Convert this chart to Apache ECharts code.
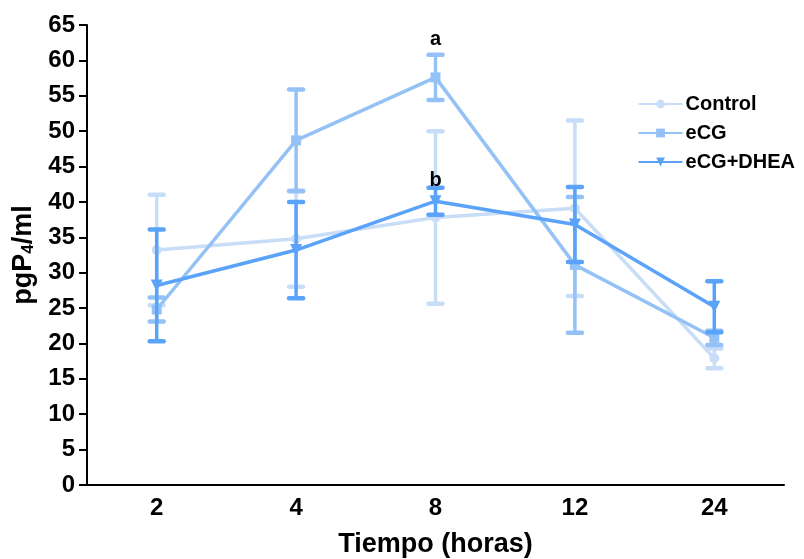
<!DOCTYPE html>
<html><head><meta charset="utf-8">
<script src="https://cdn.jsdelivr.net/npm/echarts@6/dist/echarts.min.js"></script>
<style>html,body{margin:0;padding:0;background:#fff}#c{width:804px;height:559px}</style>
</head><body><div id="c"></div>
<script>
var categories = ['2', '4', '8', '12', '24'];
var controlMean = [33.2, 34.8, 37.8, 39.1, 17.9];
var controlErr  = [7.8, 6.8, 12.2, 12.4, 1.4];
var ecgMean     = [24.8, 48.7, 57.6, 31.1, 20.8];
var ecgErr      = [1.7, 7.2, 3.2, 9.6, 1.0];
var dheaMean    = [28.2, 33.2, 40.1, 36.8, 25.2];
var dheaErr     = [7.9, 6.8, 1.9, 5.3, 3.6];
var yTicks = {min: 0, max: 65, interval: 5};
var annotations = [{text: 'a', cat: '8', value: 62.9}, {text: 'b', cat: '8', value: 43.1}];

var colors = {control: '#c8ddf7', ecg: '#94c2f7', dhea: '#5aa3f9'};
var FONT = 'Liberation Sans, Arial, sans-serif';

function errData(mean, err) {
  return mean.map(function (m, i) { return [i, m - err[i], m + err[i]]; });
}
function errSeries(name, mean, err, color, z) {
  return {
    type: 'custom', name: name + ' err', z: z, silent: true,
    data: errData(mean, err),
    renderItem: function (params, api) {
      var lo = api.coord([api.value(0), api.value(1)]);
      var hi = api.coord([api.value(0), api.value(2)]);
      var hw = 7;
      var st = {stroke: color, lineWidth: 3.5, lineCap: 'round'};
      return {type: 'group', children: [
        {type: 'line', shape: {x1: lo[0], y1: lo[1], x2: hi[0], y2: hi[1]}, style: st},
        {type: 'line', shape: {x1: lo[0] - hw, y1: lo[1], x2: lo[0] + hw, y2: lo[1]}, style: {stroke: color, lineWidth: 4.5, lineCap: 'round'}},
        {type: 'line', shape: {x1: hi[0] - hw, y1: hi[1], x2: hi[0] + hw, y2: hi[1]}, style: {stroke: color, lineWidth: 4.5, lineCap: 'round'}}
      ]};
    }
  };
}
function lineSeries(name, mean, color, symbol, rotate, z) {
  return {
    type: 'line', name: name, data: mean, z: z,
    symbol: symbol, symbolSize: symbol === 'triangle' ? 12 : 10, symbolRotate: rotate,
    showAllSymbol: true,
    lineStyle: {color: color, width: 3.5},
    itemStyle: {color: color, borderWidth: 0}
  };
}

var ecgLine = lineSeries('eCG', ecgMean, colors.ecg, 'rect', 0, 4);
ecgLine.markPoint = {
  symbol: 'circle', symbolSize: 1, itemStyle: {color: 'rgba(0,0,0,0)'},
  label: {show: true, position: 'inside', color: '#000', fontWeight: 'bold', fontSize: 20, fontFamily: FONT,
    formatter: function (p) { return p.name; }},
  data: annotations.map(function (a) { return {name: a.text, coord: [a.cat, a.value]}; })
};

var chart = echarts.init(document.getElementById('c'), null, {renderer: 'canvas'});
chart.setOption({
  animation: false,
  backgroundColor: '#fff',
  grid: {left: 87, right: 20, top: 25, bottom: 74, containLabel: false, outerBoundsMode: 'none'},
  legend: {
    right: 4, top: 89, orient: 'vertical', itemWidth: 44, itemHeight: 11, itemGap: 9,
    data: ['Control', 'eCG', 'eCG+DHEA'],
    textStyle: {color: '#000', fontWeight: 'bold', fontSize: 20, fontFamily: FONT, padding: [0, 0, 0, -2]}
  },
  xAxis: {
    type: 'category', data: categories, boundaryGap: true,
    axisLine: {lineStyle: {color: '#000', width: 2}},
    axisTick: {alignWithLabel: true, length: 7, lineStyle: {color: '#000', width: 2}},
    axisLabel: {color: '#000', fontWeight: 'bold', fontSize: 24, fontFamily: FONT, margin: 11},
    name: 'Tiempo (horas)', nameLocation: 'middle', nameGap: 46,
    nameTextStyle: {color: '#000', fontWeight: 'bold', fontSize: 27, fontFamily: FONT}
  },
  yAxis: {
    type: 'value', min: yTicks.min, max: yTicks.max, interval: yTicks.interval,
    splitLine: {show: false},
    axisLine: {show: true, lineStyle: {color: '#000', width: 2}},
    axisTick: {show: true, length: 8, lineStyle: {color: '#000', width: 2}},
    axisLabel: {color: '#000', fontWeight: 'bold', fontSize: 24, fontFamily: FONT, margin: 12},
    name: 'pgP{sub|4}/ml', nameLocation: 'middle', nameGap: 50, nameRotate: 90,
    nameTextStyle: {color: '#000', fontWeight: 'bold', fontSize: 27, fontFamily: FONT,
      rich: {sub: {fontSize: 17, fontWeight: 'bold', fontFamily: FONT, color: '#000', verticalAlign: 'bottom', padding: [10, 0, 0, 0]}}}
  },
  series: [
    errSeries('Control', controlMean, controlErr, colors.control, 1),
    lineSeries('Control', controlMean, colors.control, 'circle', 0, 2),
    errSeries('eCG', ecgMean, ecgErr, colors.ecg, 3),
    ecgLine,
    errSeries('eCG+DHEA', dheaMean, dheaErr, colors.dhea, 5),
    lineSeries('eCG+DHEA', dheaMean, colors.dhea, 'triangle', 180, 6)
  ]
});
</script></body></html>
